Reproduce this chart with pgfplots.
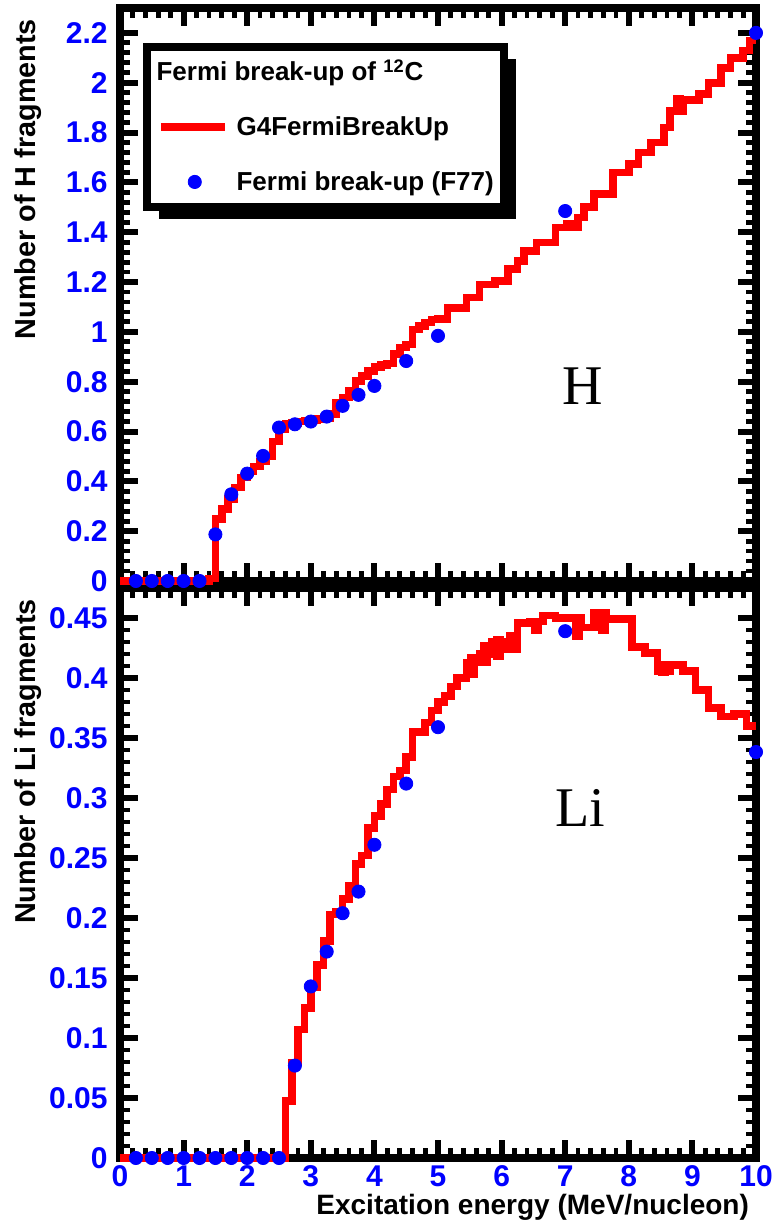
\documentclass[border=0pt]{standalone}
\usepackage{pgfplots}
\pgfplotsset{compat=1.18}
\usepackage{pgfplotstable}
\usepackage{fontspec}
\setmainfont{Liberation Sans}
\newfontfamily\serifH{Liberation Serif}
\pgfdeclarelayer{bg}
\pgfsetlayers{bg,main}
\definecolor{rootblue}{RGB}{0,0,255}
\definecolor{rootred}{RGB}{255,0,0}

\pgfplotstableread{
x y
0 0
1.4 0.01
1.5 0.25
1.6 0.29
1.7 0.33
1.8 0.375
1.9 0.415
2.0 0.44
2.1 0.46
2.2 0.48
2.3 0.50
2.4 0.56
2.5 0.61
2.6 0.63
2.7 0.635
2.8 0.64
2.9 0.645
3.0 0.645
3.1 0.65
3.2 0.655
3.3 0.67
3.4 0.716
3.5 0.736
3.6 0.763
3.7 0.803
3.8 0.823
3.9 0.843
4.0 0.859
4.1 0.867
4.2 0.873
4.3 0.91
4.4 0.937
4.5 0.95
4.6 1.01
4.7 1.024
4.8 1.037
4.9 1.05
5.0 1.052
5.15 1.095
5.45 1.138
5.65 1.19
5.9 1.205
6.1 1.252
6.25 1.285
6.35 1.325
6.55 1.359
6.85 1.419
7.2 1.459
7.3 1.50
7.45 1.553
7.75 1.64
8.0 1.673
8.15 1.72
8.35 1.76
8.55 1.82
8.65 1.887
8.85 1.93
9.1 1.955
9.25 2.0
9.45 2.06
9.6 2.10
9.8 2.13
9.9 2.17
10 2.17
}\Hsim

\pgfplotstableread{
x y e
7.05 1.43 0.02
8.78 1.915 0.035
}\Herr

\pgfplotstableread{
x y
0.25 0
0.5 0
0.75 0
1.0 0
1.25 0
1.5 0.187
1.75 0.348
2.0 0.431
2.25 0.502
2.5 0.616
2.75 0.629
3.0 0.64
3.25 0.66
3.5 0.703
3.75 0.747
4.0 0.783
4.5 0.883
5.0 0.984
7.0 1.485
10 2.2
}\Hfs

\pgfplotstableread{
x y
0 0
2.6 0.0475
2.7 0.0795
2.8 0.107
2.9 0.125
3.0 0.142
3.1 0.161
3.2 0.181
3.3 0.203
3.4 0.205
3.5 0.216
3.6 0.227
3.7 0.245
3.8 0.252
3.9 0.275
4.0 0.285
4.1 0.295
4.2 0.307
4.3 0.318
4.4 0.323
4.5 0.334
4.6 0.355
4.7 0.355
4.8 0.363
4.9 0.373
5.0 0.38
5.1 0.385
5.2 0.393
5.3 0.40
5.45 0.413
5.65 0.42
5.85 0.43
6.05 0.424
6.25 0.446
6.45 0.447
6.65 0.452
6.85 0.45
7.05 0.45
7.25 0.442
7.45 0.454
7.65 0.449
7.85 0.449
8.05 0.426
8.25 0.421
8.45 0.406
8.65 0.411
8.85 0.406
9.05 0.39
9.25 0.375
9.45 0.368
9.65 0.37
9.85 0.36
10 0.36
}\Lisim

\pgfplotstableread{
x y e
5.55 0.41 0.01
5.75 0.42 0.01
5.95 0.425 0.01
6.15 0.43 0.008
6.55 0.443 0.006
7.2 0.441 0.009
7.6 0.445 0.008
8.55 0.408 0.006
}\Lierr

\pgfplotstableread{
x y
0.25 0
0.5 0
0.75 0
1.0 0
1.25 0
1.5 0
1.75 0
2.0 0
2.25 0
2.5 0
2.75 0.077
3.0 0.143
3.25 0.172
3.5 0.204
3.75 0.222
4.0 0.261
4.5 0.312
5.0 0.359
7.0 0.439
10 0.3383
}\Lifs

\pgfplotsset{
  rootframe/.style={
    scale only axis,
    width=318pt,
    xmin=0, xmax=10,
    xtick={0,1,2,3,4,5,6,7,8,9,10},
    minor x tick num=4,
    minor y tick num=4,
    tick align=inside,
    xtick pos=both, ytick pos=both,
    major tick length=9pt,
    minor tick length=5pt,
    every major tick/.append style={black, line width=3pt},
    every minor tick/.append style={black, line width=2.4pt},
    axis line style={line width=4pt, line cap=rect},
    /pgf/number format/assume math mode=true,
    tick label style={font=\bfseries\fontsize{15}{17}\selectfont, text=rootblue, inner sep=0pt},
    yticklabel style={xshift=-6pt},
    xticklabel style={yshift=-3.5pt},
    label style={font=\bfseries\fontsize{14.4}{16}\selectfont},
    ylabel style={at={(rel axis cs:-0.1336,0.993)}, anchor=base east},
    clip=false,
  },
  histo/.style={const plot, rootred, line width=3.8pt,
    legend image code/.code={\draw[rootred, line width=3.8pt] (0pt,0pt) -- (32pt,0pt);}},
  errblob/.style={draw=none, mark=none, forget plot,
    error bars/.cd, y dir=both, y explicit, error mark=none,
    error bar style={draw=rootred, line width=5.5pt}},
  fdots/.style={only marks, mark=*, mark size=3.3pt, rootblue,
    mark options={fill=rootblue, draw=rootblue, line width=0.4pt},
    legend image code/.code={\draw[mark repeat=2,mark phase=2,#1] plot coordinates {(0pt,0pt) (17pt,0pt) (32pt,0pt)};}},
}

\begin{document}
\begin{tikzpicture}
% bottom panel (Li)
\begin{axis}[rootframe,
  at={(0pt,0pt)}, anchor=south west,
  height=285pt,
  ymin=0, ymax=0.475,
  ytick={0,0.05,0.1,0.15,0.2,0.25,0.3,0.35,0.4,0.45},
  scaled y ticks=false,
  yticklabel style={/pgf/number format/fixed, /pgf/number format/precision=2},
  ylabel={Number of Li fragments},
  xlabel={Excitation energy (MeV/nucleon)},
  xlabel style={at={(rel axis cs:1,0)}, anchor=base east, yshift=-28pt, font=\bfseries\fontsize{14}{16}\selectfont},
]
\addplot[histo] table {\Lisim};
\addplot[errblob] table[x=x, y=y, y error=e] {\Lierr};
\addplot[fdots] table {\Lifs};
\node[font=\serifH\fontsize{28}{30}\selectfont, anchor=base] at (axis cs:7.24,0.276) {Li};
\end{axis}
% top panel (H)
\begin{axis}[rootframe,
  at={(0pt,288.5pt)}, anchor=south west,
  height=286.5pt,
  ymin=0, ymax=2.3,
  ytick={0,0.2,0.4,0.6,0.8,1,1.2,1.4,1.6,1.8,2,2.2},
  xticklabels={},
  ylabel={Number of H fragments},
  legend cell align=left,
  legend style={at={(rel axis cs:0.0424,0.932)}, anchor=north west,
    name=legbox, outer sep=0pt,
    draw=black, line width=4pt, fill=white,
    inner xsep=5pt, inner ysep=6pt,
    row sep=14.5pt, column sep=4pt,
    font=\bfseries\fontsize{13}{15}\selectfont,
    nodes={inner sep=0pt, text height=11pt, text depth=2pt}},
]
\addlegendimage{empty legend}
\addlegendentry{\hspace*{-40pt}Fermi break-up of \textsuperscript{12}C}
\addplot[histo] table {\Hsim};
\addlegendentry{G4FermiBreakUp}
\addplot[errblob] table[x=x, y=y, y error=e] {\Herr};
\addplot[fdots] table {\Hfs};
\addlegendentry{Fermi break-up (F77)}
\node[font=\serifH\fontsize{28}{30}\selectfont, anchor=base] at (axis cs:7.28,0.71) {H};
\end{axis}
\begin{pgfonlayer}{bg}
\fill[black] ([xshift=6pt,yshift=-6pt]legbox.south west) rectangle ([xshift=6pt,yshift=-6pt]legbox.north east);
\end{pgfonlayer}
\pgfresetboundingbox
\path[use as bounding box] (-60pt,-31.5pt) rectangle (326pt,579pt);
\end{tikzpicture}
\end{document}
